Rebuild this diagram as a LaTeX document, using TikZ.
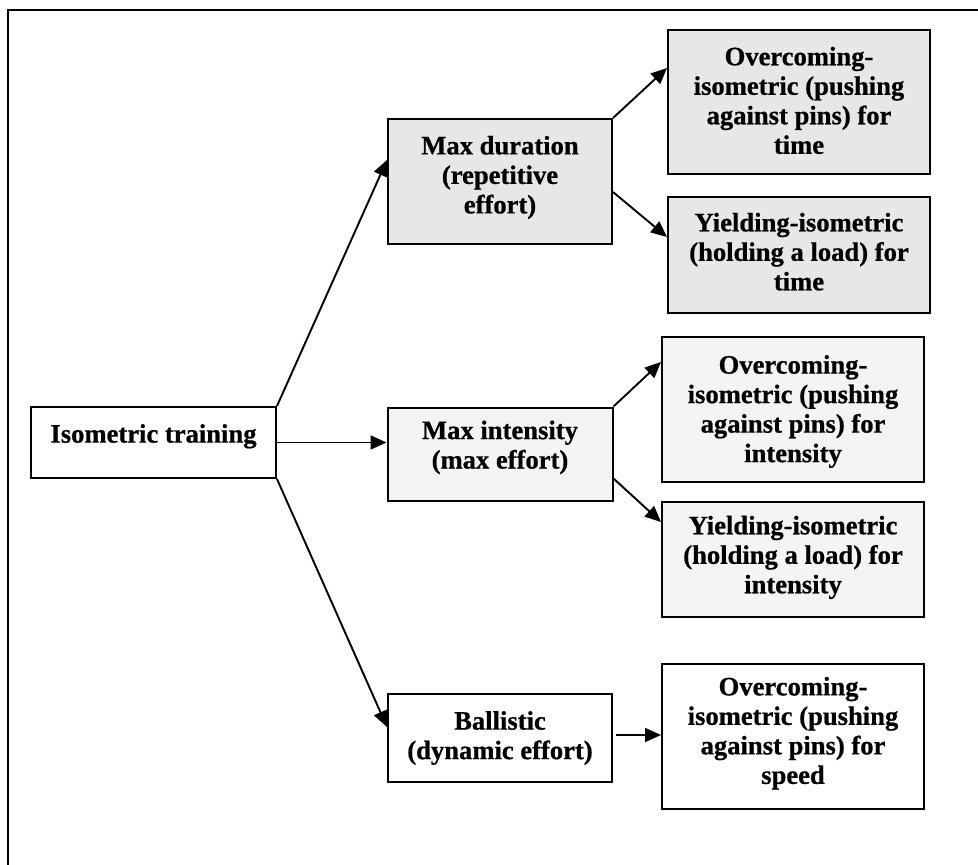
\documentclass[tikz,border=0pt]{standalone}
\usepackage{fontspec}
\setmainfont{Liberation Serif}[BoldFeatures={FakeBold=0.7}]
\usetikzlibrary{arrows.meta,calc}
\definecolor{greyA}{HTML}{E7E7E7}
\definecolor{greyB}{HTML}{F4F4F4}
\begin{document}
\begin{tikzpicture}[x=1pt,y=-1pt,
  box/.style={draw, line width=2pt, rectangle, inner sep=0pt},
  lbl/.style={font=\fontsize{26.6}{29.5}\selectfont\bfseries, align=center, inner sep=0pt},
  conn/.style={line width=1.9pt, -{Triangle[length=16pt,width=14pt]}},
  framestyle/.style={line width=2pt}]
\useasboundingbox (0,0) rectangle (978,865);
\draw[framestyle] (8,865) -- (8,10) -- (978,10);

% boxes
\node[box, fill=white, minimum width=245pt, minimum height=71pt] (iso) at (153.5,442.5) {};
\node[box, fill=greyA, minimum width=224pt, minimum height=125pt] (dur) at (500,181.5) {};
\node[box, fill=greyA, minimum width=262pt, minimum height=144pt] (ovt) at (799,102) {};
\node[box, fill=greyA, minimum width=262pt, minimum height=116pt] (yit) at (799,255) {};
\node[box, fill=greyB, minimum width=225pt, minimum height=93pt] (int) at (500,454) {};
\node[box, fill=greyB, minimum width=262pt, minimum height=145pt] (ovi) at (793,409.5) {};
\node[box, fill=greyB, minimum width=262pt, minimum height=115pt] (yii) at (793,559.5) {};
\node[box, fill=white, minimum width=224pt, minimum height=88pt] (bal) at (500,738) {};
\node[box, fill=white, minimum width=262pt, minimum height=145pt] (ovs) at (793,736.5) {};

% texts
\node[lbl] (isoT) at (153.5,436.3) {Isometric training};
\node[lbl] (durT) at (500,177.5) {Max duration\\(repetitive\\effort)};
\node[lbl] (ovtT) at (799,100.4) {Overcoming-\\isometric (pushing\\against pins) for\\time};
\node[lbl] (yitT) at (799,251.7) {Yielding-isometric\\(holding a load) for\\time};
\node[lbl] (intT) at (500,447.4) {Max intensity\\(max effort)};
\node[lbl] (oviT) at (793,411.5) {Overcoming-\\isometric (pushing\\against pins) for\\intensity};
\node[lbl] (yiiT) at (793,557.4) {Yielding-isometric\\(holding a load) for\\intensity};
\node[lbl] (balT) at (500,738) {Ballistic\\(dynamic effort)};
\node[lbl] (ovsT) at (793,733.2) {Overcoming-\\isometric (pushing\\against pins) for\\speed};

% connectors
\draw[conn] (iso.north east) -- ([yshift=21.5pt]dur.west);
\draw[conn] (iso.east) -- (iso.east -| int.west);
\draw[conn] (iso.south east) -- ([yshift=11pt]bal.west);
\draw[conn] (dur.north east) -- ([yshift=34pt]ovt.west);
\draw[conn] ([yshift=-10.5pt]dur.east) -- ([yshift=18pt]yit.west);
\draw[conn] (int.north east) -- ([yshift=47.5pt]ovi.west);
\draw[conn] ([yshift=-24.5pt]int.east) -- ([yshift=37.5pt]yii.west);
\draw[conn] ([xshift=3pt,yshift=3pt]bal.east) -- ([yshift=1.5pt]ovs.west);
\end{tikzpicture}
\end{document}
